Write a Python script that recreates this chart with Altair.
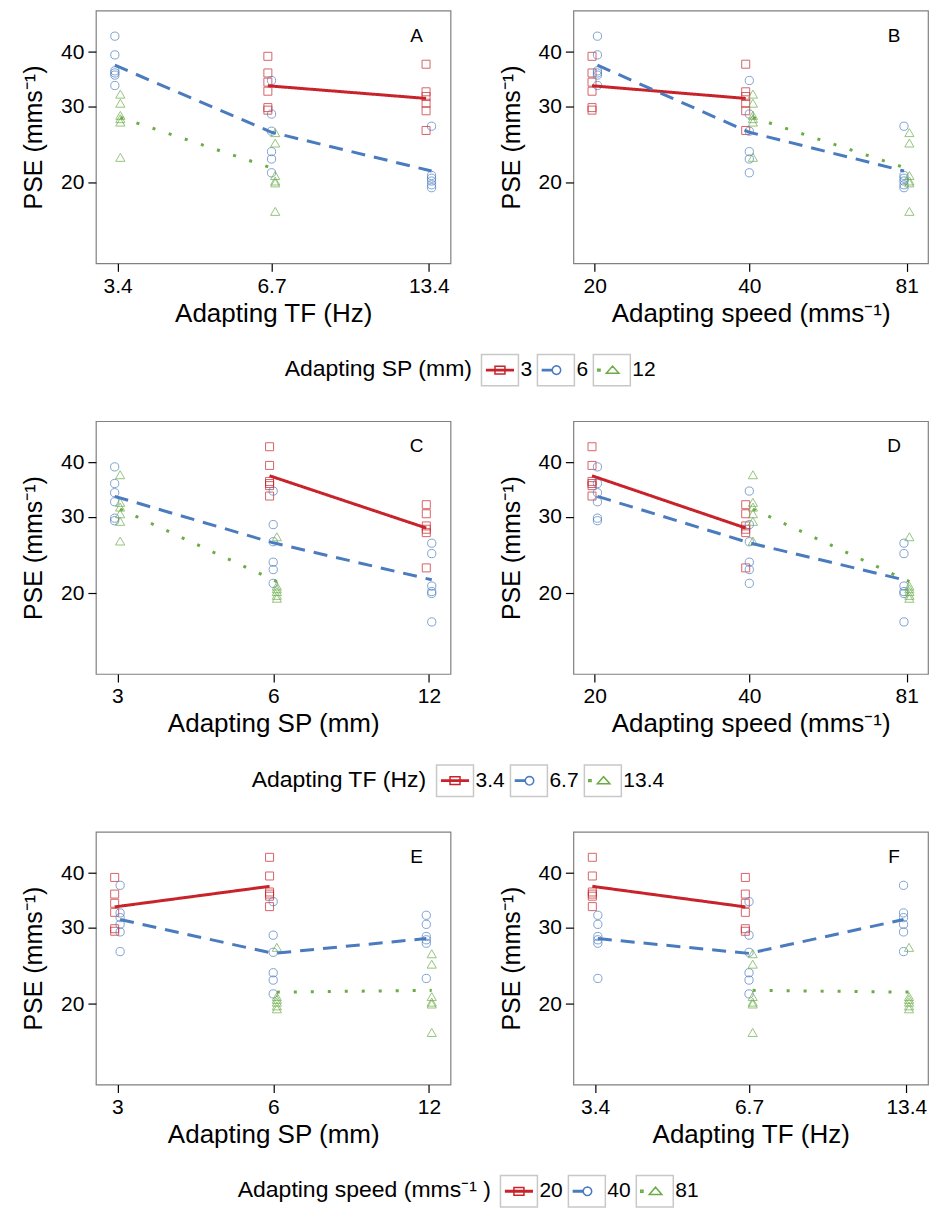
import math
import altair as alt
import pandas as pd

FONT = "Liberation Sans"

# ---- factor levels / tick labels ----
SP_LEVELS = ["3", "6", "12"]
TF_LEVELS = ["3.4", "6.7", "13.4"]
SPEED_LEVELS = ["20", "40", "81"]
SP_TICKS = [3, 6, 12]
TF_TICKS = [3.4, 6.7, 13.4]
SPEED_TICKS = [20, 40, 81]

# ---- the seven adapting conditions ----
COND_SP = ["3", "3", "6", "6", "6", "12", "12"]
COND_TF = ["6.7", "13.4", "3.4", "6.7", "13.4", "3.4", "6.7"]
COND_SPEED = ["20", "40", "20", "40", "81", "40", "81"]

# ---- PSE per observer in each condition ----
PSE_SP3_TF6_7 = [39.1, 35.8, 34.1, 32.5, 29.8, 29.4]
PSE_SP3_TF13_4 = [37.5, 32.4, 31.6, 30.5, 29.3, 26.4]
PSE_SP6_TF3_4 = [43.5, 39.4, 36.2, 35.8, 35.4, 33.5]
PSE_SP6_TF6_7 = [34.4, 28.8, 26.3, 23.6, 22.7, 21.1]
PSE_SP6_TF13_4 = [27.0, 20.8, 20.5, 20.2, 19.8, 19.5]
PSE_SP12_TF3_4 = [32.0, 30.5, 28.6, 28.1, 27.6, 22.9]
PSE_SP12_TF6_7 = [26.1, 24.7, 20.8, 20.2, 20.0, 17.2]
PSE_BY_COND = [PSE_SP3_TF6_7, PSE_SP3_TF13_4, PSE_SP6_TF3_4, PSE_SP6_TF6_7,
               PSE_SP6_TF13_4, PSE_SP12_TF3_4, PSE_SP12_TF6_7]

rows = []
for c, vals in enumerate(PSE_BY_COND):
    for v in vals:
        rows.append({"SP": COND_SP[c], "TF": COND_TF[c], "SPEED": COND_SPEED[c], "pse": v})
df = pd.DataFrame(rows)

FACTORS = {
    "SP": dict(levels=SP_LEVELS, ticks=SP_TICKS, fmt=".0f",
               axis_title="Adapting SP (mm)", legend_title="Adapting SP (mm)"),
    "TF": dict(levels=TF_LEVELS, ticks=TF_TICKS, fmt=".1f",
               axis_title="Adapting TF (Hz)", legend_title="Adapting TF (Hz)"),
    "SPEED": dict(levels=SPEED_LEVELS, ticks=SPEED_TICKS, fmt=".0f",
                  axis_title="Adapting speed (mms\u207b\u00b9)",
                  legend_title="Adapting speed (mms\u207b\u00b9 )"),
}

COLORS = ["#c8232a", "#4a7bbf", "#6aac46"]
SHAPES = ["square", "circle", "triangle-up"]
SIZES = [64, 68, 85]
DASHES = [[1, 0], [14, 9], [3, 14]]


def _circle_path(cx, r, n=16):
    pts = [(cx + r * math.cos(2 * math.pi * k / n), r * math.sin(2 * math.pi * k / n))
           for k in range(n)]
    return "M" + "L".join(f"{x:.3f},{y:.3f}" for x, y in pts) + "Z"


PAD = "M-1,-0.85M1,0.85"
KEY_PATHS = [
    PAD + "M-0.72,-0.035H0.72V0.035H-0.72Z" + "M-0.27,-0.21H0.27V0.21H-0.27Z",
    PAD + "M-0.73,-0.035H-0.2V0.035H-0.73Z" + _circle_path(0.03, 0.23),
    PAD + "M-0.76,-0.05H-0.64V0.05H-0.76Z" + "M-0.3,0.17L0.04,-0.22L0.38,0.17Z",
]
BOX_PATH = "M-1,-0.85H1V0.85H-1Z"

W, H = 355, 253
YDOM = [13.06, 49.8]
DODGE = 0.07      # dodge width in log2 units
XPAD = 0.138      # x expansion in log2 units


def legend_props(title, lx, ly, **extra):
    props = dict(title=title, orient="none", legendX=lx, legendY=ly,
                 direction="horizontal", titleOrient="left",
                 titleFont=FONT, titleFontSize=23, titleFontWeight="normal",
                 titleColor="black", titlePadding=8, titleLimit=400,
                 labelFont=FONT, labelFontSize=21, labelColor="black",
                 labelOffset=1, columnPadding=2, symbolSize=1369,
                 symbolStrokeWidth=1.5, symbolOpacity=1, symbolOffset=0,
                 padding=0)
    props.update(extra)
    return alt.Legend(**props)


def panel(xf, cf, letter, legend_pos=None):
    X, C = FACTORS[xf], FACTORS[cf]
    d = df.copy()
    d["grp"] = d[cf]
    xnum = dict(zip(X["levels"], X["ticks"]))
    d["xv"] = d[xf].map(xnum)
    offs = {}
    for lvl in X["levels"]:
        present = [g for g in C["levels"] if ((d[xf] == lvl) & (d["grp"] == g)).any()]
        n = len(present)
        for i, g in enumerate(present):
            offs[(lvl, g)] = DODGE * ((i + 0.5) / n - 0.5)
    d["xd"] = [xv * 2 ** offs[(l, g)] for xv, l, g in zip(d["xv"], d[xf], d["grp"])]

    xdom = [X["ticks"][0] * 2 ** -XPAD, X["ticks"][-1] * 2 ** XPAD]
    xenc = alt.X("xd:Q", scale=alt.Scale(type="log", domain=xdom, nice=False),
                 axis=alt.Axis(values=X["ticks"], format=X["fmt"], title=X["axis_title"]))
    yscale = alt.Scale(type="log", domain=YDOM, nice=False, zero=False)
    yaxis = alt.Axis(values=[20, 30, 40], format=".0f", title="PSE (mms\u207b\u00b9)")
    lx, ly = legend_pos if legend_pos else (0, 0)
    leg = legend_props(C["legend_title"], lx, ly)
    color = alt.Color("grp:N", scale=alt.Scale(domain=C["levels"], range=COLORS), legend=leg)

    base = alt.Chart(d)
    layers = []
    for i, g in enumerate(C["levels"]):
        layers.append(
            base.transform_filter(alt.datum.grp == g)
            .mark_point(shape=SHAPES[i], filled=False, size=SIZES[i], strokeWidth=1)
            .encode(x=xenc, y=alt.Y("pse:Q", scale=yscale, axis=yaxis), color=color)
        )
    for i, g in enumerate(C["levels"]):
        layers.append(
            base.transform_filter(alt.datum.grp == g)
            .mark_line(strokeWidth=3, color=COLORS[i], strokeDash=DASHES[i])
            .encode(x=xenc, y=alt.Y("mean(pse):Q", scale=yscale, axis=yaxis))
        )
    layers.append(
        alt.Chart(pd.DataFrame({"t": [letter]}))
        .mark_text(font=FONT, fontSize=19, color="black", align="center", baseline="middle")
        .encode(text="t:N", x=alt.value(W - 34), y=alt.value(25))
    )
    if legend_pos:
        legdf = pd.DataFrame({"grp": C["levels"]})
        layers.append(
            alt.Chart(legdf).mark_point(opacity=0, filled=False).encode(
                color=color,
                shape=alt.Shape("grp:N", scale=alt.Scale(domain=C["levels"], range=KEY_PATHS),
                                legend=leg),
            )
        )
        boxleg = legend_props(C["legend_title"], lx, ly, symbolType=BOX_PATH,
                              symbolStrokeColor="#c8c8c8", labelOpacity=0, titleOpacity=0)
        layers.append(
            alt.Chart(legdf).mark_point(opacity=0, filled=False).encode(
                fill=alt.Fill("grp:N", sort=C["levels"],
                              scale=alt.Scale(range=["transparent"] * 3), legend=boxleg),
            )
        )
    return alt.layer(*layers).properties(width=W, height=H)


row1 = alt.hconcat(panel("TF", "SP", "A", (189, 340)), panel("SPEED", "SP", "B"), spacing=47)
row2 = alt.hconcat(panel("SP", "TF", "C", (156, 340)), panel("SPEED", "TF", "D"), spacing=47)
row3 = alt.hconcat(panel("SP", "SPEED", "E", (142, 340)), panel("TF", "SPEED", "F"), spacing=47)

chart = (
    alt.vconcat(row1, row2, row3, spacing=31)
    .resolve_scale(color="independent", shape="independent", fill="independent")
    .properties(padding={"left": 21, "top": 9, "right": 4, "bottom": 0}, background="white")
    .configure_view(stroke="#808080", strokeWidth=1.2)
    .configure_axis(domain=False, grid=False, tickColor="black", tickWidth=1.2, tickSize=8,
                    labelFont=FONT, labelFontSize=21, labelColor="black", labelPadding=4,
                    titleFont=FONT, titleFontSize=26, titleFontWeight="normal", titleColor="black")
    .configure_axisY(titlePadding=14, titleFontSize=25)
    .configure_axisX(titlePadding=4)
)

chart.save("out.html", embed_options={"renderer": "svg", "actions": False})
